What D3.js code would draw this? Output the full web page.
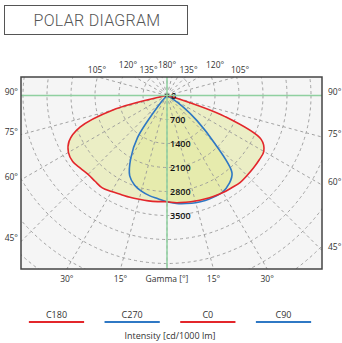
<!DOCTYPE html>
<html>
<head>
<meta charset="utf-8">
<script src="https://cdn.jsdelivr.net/npm/d3@7"></script>
<style>
  body { margin: 0; background: #fff; }
  text { font-family: "Open Sans", sans-serif; }
</style>
</head>
<body>
<div id="chart"></div>
<script>
// gamma angles (deg from nadir) and intensities [cd/1000 lm]
var gammas = [0, 5, 10, 15, 20, 25, 30, 35, 40, 45, 50, 55, 60, 65, 70, 75, 80, 85, 90];
var c0   = [3100, 3140, 3160, 3185, 3210, 3240, 3270, 3285, 3313, 3300, 3290, 3280, 3260, 3030, 1800, 200, 40, 0, 0];
var c180 = [3100, 3106, 3120, 3135, 3160, 3185, 3235, 3290, 3265, 3255, 3300, 3358, 3320, 3150, 2700, 1650, 150, 30, 0];
var c90  = [3100, 3160, 3200, 3240, 3260, 3262, 3250, 3150, 2950, 1950, 1150, 550, 150, 30, 0, 0, 0, 0, 0];
var c270 = [3100, 3020, 2965, 2890, 2777, 2576, 2115, 1500, 380, 60, 0, 0, 0, 0, 0, 0, 0, 0, 0];
var ringValues = [0, 700, 1400, 2100, 2800, 3500];
var legendItems = ["C180", "C270", "C0", "C90"];
var legendColors = ["#e3262b", "#2f78c4", "#e3262b", "#2f78c4"];

var W = 342, H = 343;
var box = { left: 21, top: 77, right: 322, bottom: 269 };
var cx = 167, cy = 95.5;

var svg = d3.select("#chart").append("svg")
    .attr("width", W).attr("height", H);

/* title */
svg.append("rect")
    .attr("x", 4.5).attr("y", 5.5).attr("width", 183).attr("height", 29)
    .attr("fill", "none").attr("stroke", "#555").attr("stroke-width", 1);
svg.append("text")
    .attr("x", 97).attr("y", 26)
    .attr("text-anchor", "middle")
    .style("font-family", "Roboto, sans-serif")
    .style("font-size", "16px")
    .style("font-weight", "300")
    .style("letter-spacing", "0.3px")
    .attr("fill", "#555")
    .text("POLAR DIAGRAM");

/* plot area */
svg.append("rect")
    .attr("x", box.left).attr("y", box.top)
    .attr("width", box.right - box.left).attr("height", box.bottom - box.top)
    .attr("fill", "#f5f5f5");

svg.append("clipPath").attr("id", "clip")
    .append("rect")
    .attr("x", box.left).attr("y", box.top)
    .attr("width", box.right - box.left).attr("height", box.bottom - box.top);

var r = d3.scaleLinear().domain([0, 700]).range([0, 24]);

var plot = svg.append("g").attr("clip-path", "url(#clip)");
var g = plot.append("g").attr("transform", "translate(" + cx + "," + cy + ")");

function plane(right, left) {
    // left half from 90 down to 0, then right half 0 to 90
    var pts = [];
    for (var i = gammas.length - 1; i >= 0; i--) {
        pts.push([Math.PI + gammas[i] * Math.PI / 180, r(left[i])]);
    }
    for (var j = 1; j < gammas.length; j++) {
        pts.push([Math.PI - gammas[j] * Math.PI / 180, r(right[j])]);
    }
    return pts;
}

var line = d3.lineRadial()
    .angle(function (d) { return d[0]; })
    .radius(function (d) { return d[1]; })
    .curve(d3.curveCatmullRom);

var redPts = plane(c0, c180);
var bluePts = plane(c90, c270);

/* fills */
[redPts, bluePts].forEach(function (pts) {
    g.append("path")
        .attr("d", line(pts))
        .attr("fill", "rgba(226,231,150,0.5)")
        .attr("stroke", "none");
});

/* grid */
var gridRings = d3.range(700, 7001, 700);
g.selectAll(".ring").data(gridRings).enter().append("circle")
    .attr("r", function (d) { return r(d); })
    .attr("fill", "none").attr("stroke", "#999")
    .attr("stroke-width", 0.9).attr("stroke-dasharray", "3,3");

g.selectAll(".spoke").data(d3.range(0, 360, 15)).enter().append("line")
    .attr("x1", 0).attr("y1", 0)
    .attr("x2", function (d) { return 400 * Math.sin(d * Math.PI / 180); })
    .attr("y2", function (d) { return 400 * Math.cos(d * Math.PI / 180); })
    .attr("stroke", "#999").attr("stroke-width", 0.9).attr("stroke-dasharray", "3,3");

/* green axes */
plot.append("line")
    .attr("x1", box.left).attr("x2", box.right).attr("y1", cy).attr("y2", cy)
    .attr("stroke", "#8fd0a0").attr("stroke-width", 1.5);
plot.append("line")
    .attr("x1", cx).attr("x2", cx).attr("y1", box.top).attr("y2", box.bottom)
    .attr("stroke", "#8fd0a0").attr("stroke-width", 1.5);

/* curves */
g.append("path").attr("d", line(bluePts))
    .attr("fill", "none").attr("stroke", "#2f78c4").attr("stroke-width", 1.6);
g.append("path").attr("d", line(redPts))
    .attr("fill", "none").attr("stroke", "#e3262b").attr("stroke-width", 1.6);

g.append("circle").attr("r", 2).attr("fill", "#111");

/* ring labels */
g.selectAll(".rlab").data(ringValues).enter().append("text")
    .attr("x", function (d) { return d === 0 ? 4 : 3; })
    .attr("y", function (d) { return r(d); })
    .attr("dy", "0.35em")
    .style("font-size", "9px")
    .style("font-weight", "600")
    .attr("fill", "#111")
    .text(function (d) { return d; });

/* border */
svg.append("rect")
    .attr("x", box.left).attr("y", box.top)
    .attr("width", box.right - box.left).attr("height", box.bottom - box.top)
    .attr("fill", "none").attr("stroke", "#444").attr("stroke-width", 1.5);

/* angle labels */
var tan = function (a) { return Math.tan(a * Math.PI / 180); };
var labStyle = function (sel) {
    return sel.style("font-size", "8.5px").attr("fill", "#333");
};
// sides: gamma 45..90 on left/right borders
[45, 60, 75, 90].forEach(function (a) {
    var yl = cy + (cx - box.left) / tan(a);
    var yr = cy + (box.right - cx) / tan(a);
    labStyle(svg.append("text")).attr("x", box.left - 3).attr("y", yl - 3)
        .attr("dy", "0.35em").attr("text-anchor", "end").text(a + "°");
    labStyle(svg.append("text")).attr("x", box.right + 6).attr("y", yr - 3)
        .attr("dy", "0.35em").text(a + "°");
});
// bottom: gamma 15, 30
[15, 30].forEach(function (a) {
    var dx = (box.bottom - cy) * tan(a);
    labStyle(svg.append("text")).attr("x", cx - dx).attr("y", box.bottom + 13)
        .attr("text-anchor", "middle").text(a + "°");
    labStyle(svg.append("text")).attr("x", cx + dx).attr("y", box.bottom + 13)
        .attr("text-anchor", "middle").text(a + "°");
});
labStyle(svg.append("text")).attr("x", cx).attr("y", box.bottom + 13)
    .attr("text-anchor", "middle").text("Gamma [°]");
// top: 105, 120, 135, 180
var topLabels = [
    { a: 105, nx: -1, up: 0 },
    { a: 120, nx: -7, up: 5 },
    { a: 135, nx: 0, up: 0 },
];
topLabels.forEach(function (t) {
    var dx = (cy - box.top) / tan(t.a - 90);
    labStyle(svg.append("text")).attr("x", cx - dx + t.nx).attr("y", box.top - 4 - t.up)
        .attr("text-anchor", "middle").text(t.a + "°");
    labStyle(svg.append("text")).attr("x", cx + dx - t.nx + (t.a === 120 ? 9 : 3)).attr("y", box.top - 4 - t.up)
        .attr("text-anchor", "middle").text(t.a + "°");
});
labStyle(svg.append("text")).attr("x", cx).attr("y", box.top - 9)
    .attr("text-anchor", "middle").text("180°");

/* legend */
var lx = d3.scaleBand().domain(legendItems).range([16, 324]).paddingInner(0.27).paddingOuter(0.17);
var leg = svg.selectAll(".leg").data(legendItems).enter().append("g");
leg.append("line")
    .attr("x1", function (d) { return lx(d); })
    .attr("x2", function (d) { return lx(d) + lx.bandwidth(); })
    .attr("y1", 322).attr("y2", 322)
    .attr("stroke", function (d, i) { return legendColors[i]; })
    .attr("stroke-width", 2);
leg.append("text")
    .attr("x", function (d) { return lx(d) + lx.bandwidth() / 2; })
    .attr("y", 318)
    .attr("text-anchor", "middle")
    .style("font-size", "9px").attr("fill", "#333")
    .text(function (d) { return d; });
svg.append("text")
    .attr("x", 170).attr("y", 339)
    .attr("text-anchor", "middle")
    .style("font-size", "9px").attr("fill", "#333")
    .text("Intensity [cd/1000 lm]");
</script>
</body>
</html>
